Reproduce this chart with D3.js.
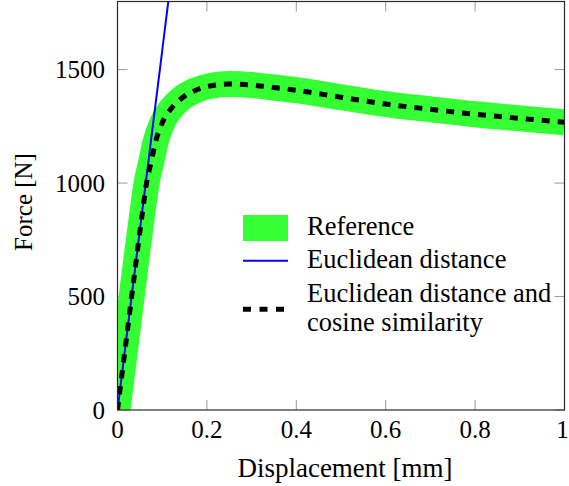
<!DOCTYPE html>
<html>
<head>
<meta charset="utf-8">
<script src="https://cdn.jsdelivr.net/npm/d3@7"></script>
<style>
  html, body { margin: 0; padding: 0; background: #fff; }
  svg { display: block; }
  text { font-family: "Liberation Serif", "DejaVu Serif", serif; fill: #000; }
</style>
</head>
<body>
<svg id="chart" width="569" height="486"></svg>
<script>
// ---- data ----
const xTicks = [0, 0.2, 0.4, 0.6, 0.8, 1];
const xTickLabels = ["0", "0.2", "0.4", "0.6", "0.8", "1"];
const yTicks = [0, 500, 1000, 1500];
const yTickLabels = ["0", "500", "1000", "1500"];

const referenceDisp  = [0, 0.02, 0.04, 0.055, 0.065, 0.075, 0.085, 0.1, 0.12, 0.145, 0.175, 0.21, 0.25, 0.3, 0.35, 0.4, 0.5, 0.6, 0.7, 0.8, 0.9, 1.0];
const referenceForce = [0, 315, 630, 860, 1000, 1090, 1180, 1265, 1328, 1376, 1409, 1429, 1436, 1432, 1421, 1409, 1378, 1348, 1325, 1303, 1285, 1268];

const euclidDisp  = [0, 0.1137];
const euclidForce = [0, 1800];

const combinedDisp  = [0, 0.02, 0.04, 0.055, 0.065, 0.075, 0.085, 0.1, 0.12, 0.145, 0.175, 0.21, 0.25, 0.3, 0.35, 0.4, 0.5, 0.6, 0.7, 0.8, 0.9, 1.0];
const combinedForce = [0, 315, 630, 860, 1000, 1090, 1180, 1265, 1328, 1376, 1409, 1429, 1436, 1432, 1421, 1409, 1378, 1348, 1325, 1303, 1285, 1268];

const legendLabels = [["Reference"], ["Euclidean distance"], ["Euclidean distance and", "cosine similarity"]];

// ---- layout ----
const svg = d3.select("#chart");
const pLeft = 117.5, pRight = 564.5, pTop = 1.5, pBottom = 410;
const FS = 25;

const x = d3.scaleLinear().domain([0, 1]).range([pLeft, pRight]);
const y = d3.scaleLinear().domain([0, 1800]).range([pBottom, pTop]);

svg.append("defs").append("clipPath").attr("id", "clip")
  .append("rect").attr("x", pLeft).attr("y", pTop).attr("width", pRight - pLeft).attr("height", pBottom - pTop);

// ticks (inward, all four sides)
const tickLen = 10, tickColor = "#9a9a9a";
const tg = svg.append("g");
xTicks.forEach(t => {
  tg.append("line").attr("x1", x(t)).attr("x2", x(t)).attr("y1", pBottom).attr("y2", pBottom - tickLen)
    .attr("stroke", tickColor).attr("stroke-width", 1);
  tg.append("line").attr("x1", x(t)).attr("x2", x(t)).attr("y1", pTop).attr("y2", pTop + tickLen)
    .attr("stroke", tickColor).attr("stroke-width", 1);
});
yTicks.forEach(t => {
  tg.append("line").attr("x1", pLeft).attr("x2", pLeft + tickLen).attr("y1", y(t)).attr("y2", y(t))
    .attr("stroke", tickColor).attr("stroke-width", 1);
  tg.append("line").attr("x1", pRight).attr("x2", pRight - tickLen).attr("y1", y(t)).attr("y2", y(t))
    .attr("stroke", tickColor).attr("stroke-width", 1);
});

const line = (xs, ys) => d3.line().curve(d3.curveMonotoneX)
  .x((d, i) => x(xs[i])).y((d, i) => y(ys[i]))(xs);

const plot = svg.append("g").attr("clip-path", "url(#clip)");
plot.append("path").attr("d", line(referenceDisp, referenceForce))
  .attr("fill", "none").attr("stroke", "#33ff33").attr("stroke-width", 26);
plot.append("path").attr("d", line(euclidDisp, euclidForce))
  .attr("fill", "none").attr("stroke", "#0000ff").attr("stroke-width", 2);
plot.append("path").attr("d", line(combinedDisp, combinedForce))
  .attr("fill", "none").attr("stroke", "#000").attr("stroke-width", 5).attr("stroke-dasharray", "8,8");

// frame
svg.append("rect").attr("x", pLeft).attr("y", pTop).attr("width", pRight - pLeft).attr("height", pBottom - pTop)
  .attr("fill", "none").attr("stroke", "#2a2a2a").attr("stroke-width", 1.2);

// tick labels
xTicks.forEach((t, i) => {
  const last = i === xTicks.length - 1;
  svg.append("text").attr("x", last ? x(t) - 2 : x(t)).attr("y", 438).attr("text-anchor", "middle")
    .attr("font-size", FS).text(xTickLabels[i]);
});
yTicks.forEach((t, i) => {
  svg.append("text").attr("x", 105).attr("y", y(t) + 8.5).attr("text-anchor", "end")
    .attr("font-size", FS).text(yTickLabels[i]);
});

// axis labels
svg.append("text").attr("x", 345).attr("y", 476.5).attr("text-anchor", "middle")
  .attr("font-size", 27).text("Displacement [mm]");
svg.append("text").attr("transform", "translate(31.5,202) rotate(-90)").attr("text-anchor", "middle")
  .attr("font-size", FS).text("Force [N]");

// legend
const lg = svg.append("g");
const LFS = 26.5;
const sx0 = 243, sx1 = 288, tx = 307;
lg.append("rect").attr("x", sx0).attr("y", 215).attr("width", sx1 - sx0).attr("height", 26).attr("fill", "#33ff33");
lg.append("line").attr("x1", sx0).attr("x2", sx1).attr("y1", 260.7).attr("y2", 260.7)
  .attr("stroke", "#0000ff").attr("stroke-width", 2);
lg.append("line").attr("x1", sx0).attr("x2", sx1).attr("y1", 309.3).attr("y2", 309.3)
  .attr("stroke", "#000").attr("stroke-width", 5).attr("stroke-dasharray", "8,8.5");
lg.append("text").attr("x", tx).attr("y", 235).attr("font-size", LFS).text(legendLabels[0][0]);
lg.append("text").attr("x", tx).attr("y", 268).attr("font-size", LFS).text(legendLabels[1][0]);
lg.append("text").attr("x", tx).attr("y", 302).attr("font-size", LFS).text(legendLabels[2][0]);
lg.append("text").attr("x", tx).attr("y", 331).attr("font-size", LFS).text(legendLabels[2][1]);
</script>
</body>
</html>
